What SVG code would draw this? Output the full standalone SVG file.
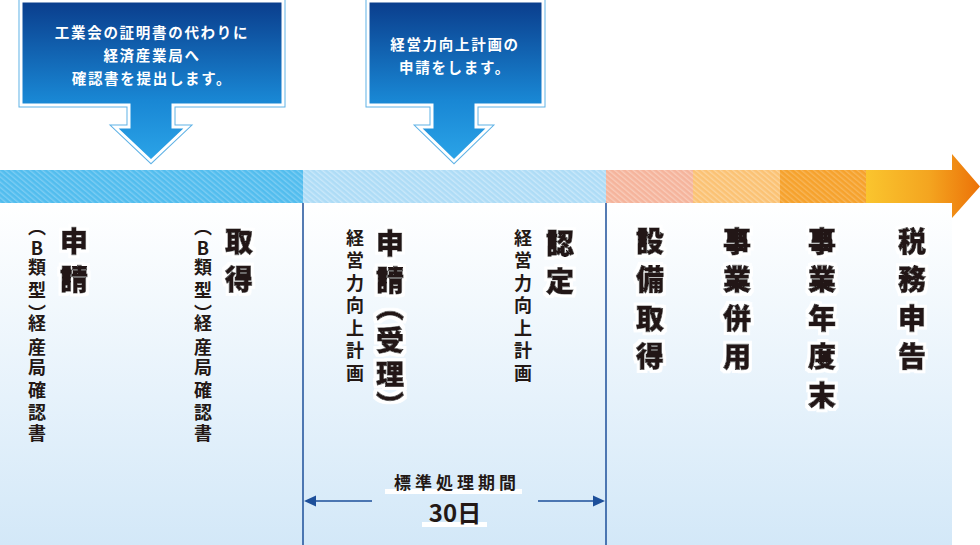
<svg xmlns="http://www.w3.org/2000/svg" width="980" height="545" viewBox="0 0 980 545">
<defs>
<linearGradient id="bg" x1="0" y1="0" x2="0" y2="1">
<stop offset="0" stop-color="#ffffff"/>
<stop offset="1" stop-color="#d3e8f8"/>
</linearGradient>
<linearGradient id="boxg" x1="0" y1="0" x2="0" y2="1">
<stop offset="0" stop-color="#0a3d8c"/>
<stop offset="0.62" stop-color="#1987d4"/>
<stop offset="1" stop-color="#2ba4e8"/>
</linearGradient>
<linearGradient id="tipg" x1="0" y1="0" x2="1" y2="0">
<stop offset="0" stop-color="#fac52e"/>
<stop offset="0.55" stop-color="#f4a520"/>
<stop offset="1" stop-color="#ec7208"/>
</linearGradient>
<pattern id="p1" width="4" height="4" patternUnits="userSpaceOnUse" patternTransform="rotate(-50)">
<rect width="4" height="4" fill="#52bdee"/><rect width="1.4" height="4" fill="#7ccdf3"/>
</pattern>
<pattern id="p2" width="4" height="4" patternUnits="userSpaceOnUse" patternTransform="rotate(-50)">
<rect width="4" height="4" fill="#aedcf6"/><rect width="1.4" height="4" fill="#c9e8fa"/>
</pattern>
<pattern id="p3" width="4" height="4" patternUnits="userSpaceOnUse" patternTransform="rotate(-50)">
<rect width="4" height="4" fill="#f5b49c"/><rect width="1.4" height="4" fill="#f9ccba"/>
</pattern>
<pattern id="p4" width="4" height="4" patternUnits="userSpaceOnUse" patternTransform="rotate(-50)">
<rect width="4" height="4" fill="#fbc274"/><rect width="1.4" height="4" fill="#fcd49b"/>
</pattern>
<pattern id="p5" width="4" height="4" patternUnits="userSpaceOnUse" patternTransform="rotate(-50)">
<rect width="4" height="4" fill="#f6a22d"/><rect width="1.4" height="4" fill="#f8b659"/>
</pattern>
<filter id="halo" x="-30%" y="-10%" width="160%" height="120%">
<feMorphology in="SourceAlpha" operator="dilate" radius="2.5" result="d"/>
<feFlood flood-color="#ffffff"/>
<feComposite in2="d" operator="in" result="w"/>
<feMerge><feMergeNode in="w"/><feMergeNode in="SourceGraphic"/></feMerge>
</filter>
</defs>
<style>
.box-o{fill:none;stroke:#5fb2e6;stroke-width:5;stroke-linejoin:miter}
.box-f{fill:url(#boxg);stroke:#ffffff;stroke-width:3;stroke-linejoin:miter}
.bt{font-family:"Noto Sans CJK JP","Noto Sans CJK SC",sans-serif;font-weight:700;font-size:14.5px;letter-spacing:1.7px;fill:#ffffff;text-anchor:middle}
.vs{font-family:"Noto Sans CJK JP","Noto Sans CJK SC",sans-serif;font-weight:700;font-size:18px;fill:#231815;writing-mode:vertical-rl;text-orientation:upright}
.vb{font-family:"Noto Sans CJK JP","Noto Sans CJK SC",sans-serif;font-weight:900;font-size:28px;fill:#231815;stroke:#231815;stroke-width:0.8px;writing-mode:vertical-rl;text-orientation:upright;filter:url(#halo)}
.vline{stroke:#1d4f9a;stroke-width:1.5;fill:none}
.dim{stroke:#1d4f9a;stroke-width:1.5;fill:none}
.ah{fill:#1d4f9a}
.lbl{font-family:"Noto Sans CJK JP","Noto Sans CJK SC",sans-serif;font-weight:700;fill:#231815;text-anchor:middle}
</style>
<rect x="0" y="203" width="952" height="342" fill="url(#bg)"/>
<g id="timeline">
<rect x="0" y="170" width="303" height="33" fill="url(#p1)"/>
<rect x="303" y="170" width="303" height="33" fill="url(#p2)"/>
<rect x="606" y="170" width="87" height="33" fill="url(#p3)"/>
<rect x="693" y="170" width="87" height="33" fill="url(#p4)"/>
<rect x="780" y="170" width="86" height="33" fill="url(#p5)"/>
<path d="M866,170 H952 V154 L980,186.5 L952,218 V203 H866 Z" fill="url(#tipg)"/>
</g>
<g id="callout1">
<path class="box-o" d="M21,1 H283 V105 H173 V127 H187 L151,161 L115,127 H129 V105 H21 Z"/>
<path class="box-f" d="M21,1 H283 V105 H173 V127 H187 L151,161 L115,127 H129 V105 H21 Z"/>
<text class="bt" x="152" y="38">工業会の証明書の代わりに</text>
<text class="bt" x="152" y="61">経済産業局へ</text>
<text class="bt" x="152" y="84">確認書を提出します。</text>
</g>
<g id="callout2">
<path class="box-o" d="M368,1 H543 V105 H476 V127 H489 L454,161 L419,127 H432 V105 H368 Z"/>
<path class="box-f" d="M368,1 H543 V105 H476 V127 H489 L454,161 L419,127 H432 V105 H368 Z"/>
<text class="bt" x="455" y="50">経営力向上計画の</text>
<text class="bt" x="455" y="73">申請をします。</text>
</g>
<g id="connectors">
<line class="vline" x1="303" y1="203" x2="303" y2="545"/>
<line class="vline" x1="606" y1="203" x2="606" y2="545"/>
<line class="dim" x1="312" y1="501" x2="372" y2="501"/>
<polygon class="ah" points="304,501 316,495.5 316,506.5"/>
<line class="dim" x1="538" y1="501" x2="597" y2="501"/>
<polygon class="ah" points="605,501 593,495.5 593,506.5"/>
</g>
<g id="col-shinsei-b">
<text class="vs" x="37" y="218 239 258 281 304 314 338 358 381 403 424">（B類型）経産局確認書</text>
<text class="vb" x="74" y="227" style="letter-spacing:10px">申請</text>
</g>
<g id="col-shutoku-b">
<text class="vs" x="203" y="218 239 258 281 304 314 338 358 381 403 424">（B類型）経産局確認書</text>
<text class="vb" x="239" y="227" style="letter-spacing:10px">取得</text>
</g>
<g id="col-shinsei-juri">
<text class="vs" x="355" y="229" style="letter-spacing:4.5px">経営力向上計画</text>
<text class="vb" x="390" y="229 266 293 326.5 360.5 391">申請（受理）</text>
</g>
<g id="col-nintei">
<text class="vs" x="523" y="229" style="letter-spacing:4.5px">経営力向上計画</text>
<text class="vb" x="560" y="229" style="letter-spacing:10px">認定</text>
</g>
<g id="col-setsubi">
<text class="vb" x="650" y="227" style="letter-spacing:10.5px">設備取得</text>
</g>
<g id="col-heiyo">
<text class="vb" x="737" y="227" style="letter-spacing:10.5px">事業併用</text>
</g>
<g id="col-nendomatsu">
<text class="vb" x="822" y="227" style="letter-spacing:10.5px">事業年度末</text>
</g>
<g id="col-zeimu">
<text class="vb" x="912" y="227" style="letter-spacing:10.5px">税務申告</text>
</g>
<g id="period">
<rect x="385" y="489" width="137" height="5" fill="#ffffff"/>
<text class="lbl" x="457" y="489" style="font-size:17px;letter-spacing:4px">標準処理期間</text>
<rect x="422" y="522" width="65" height="5" fill="#ffffff"/>
<text class="lbl" x="455" y="522" style="font-size:24px">30日</text>
</g>
</svg>
